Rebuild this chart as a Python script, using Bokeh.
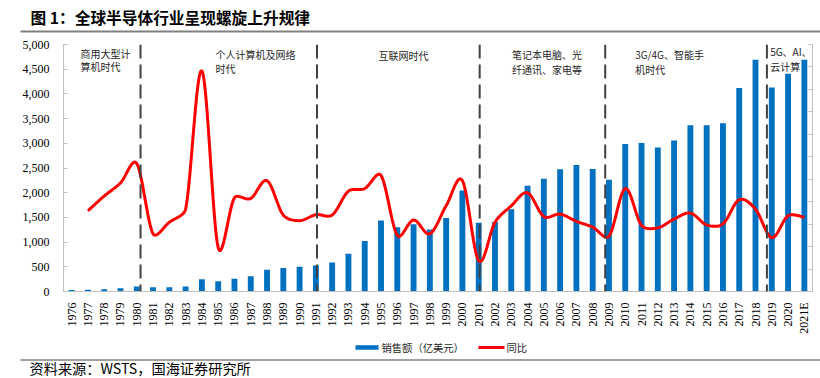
import numpy as np
from bokeh.plotting import figure
from bokeh.layouts import column
from bokeh.models import (FactorRange, Range1d, LinearAxis, SingleIntervalTicker,
                          NumeralTickFormatter, Span, Label, ColumnDataSource,
                          CustomJSTickFormatter)
from bokeh.core.properties import value
from bokeh.embed import file_html
from bokeh.resources import INLINE

# ---------------- data ----------------
years = [str(y) for y in range(1976, 2021)] + ["2021E"]
sales = [30, 35, 45, 65, 100, 88, 88, 100, 250, 210, 260, 310, 440, 478, 500,
         525, 585, 765, 1020, 1435, 1300, 1360, 1255, 1490, 2045, 1390, 1405,
         1665, 2140, 2280, 2475, 2560, 2480, 2260, 2985, 3005, 2915, 3055, 3365,
         3365, 3405, 4120, 4690, 4130, 4410, 4690]
yoy_years = years[1:]
yoy = [11.9, 25.0, 36.7, 54.0, -8.6, 1.7, 13.3, 136.6, -21.0, 23.5, 22.9, 38.7,
       8.0, 3.1, 8.4, 8.1, 29.4, 31.7, 43.4, -10.0, 3.7, -8.6, 16.3, 38.7, -32.7,
       1.7, 16.3, 27.9, 6.7, 8.9, 2.5, -2.7, -10.8, 31.7, -1.2, -3.3, 4.5, 9.8,
       -0.7, 0.2, 21.8, 13.3, -12.1, 7.5, 6.1]

era_lines = [("1980", 0.23), ("1991", 0.07), ("2001", 0.06), ("2009", -0.23), ("2019", -0.30)]
era_texts = [
    ("1977", -0.46, 4820, "商用大型计"), ("1977", -0.46, 4550, "算机时代"),
    ("1985", -0.17, 4800, "个人计算机及网络"), ("1985", -0.17, 4520, "时代"),
    ("1995", -0.16, 4780, "互联网时代"),
    ("2003", 0.04, 4790, "笔记本电脑、光"), ("2003", 0.04, 4500, "纤通讯、家电等"),
    ("2011", -0.39, 4800, "3G/4G、智能手"), ("2011", -0.39, 4500, "机时代"),
    ("2019", -0.10, 4850, "5G、AI、"), ("2019", -0.10, 4560, "云计算"),
]
title_text = "图 1：全球半导体行业呈现螺旋上升规律"
source_text = "资料来源：WSTS，国海证券研究所"
series_names = ["销售额（亿美元）", "同比"]

BLUE = "#0070C0"
RED = "#FF0000"
SERIF = "Liberation Serif"
CJK = "Noto Sans CJK SC"
W = 820
FRAME_W, FRAME_H = 749, 252
YOY_LO, YOY_HI = -60, 160


def smooth(xs, ys, kx, ky, n=16):
    """Smoothed line (Excel style): Catmull-Rom tangents, with each control arm
    capped at a third of its own segment length (in screen space)."""
    P = np.column_stack([np.asarray(xs, float) * kx, np.asarray(ys, float) * ky])
    m = len(P)

    def arm(i, seg_len):
        a = P[i - 1] if i > 0 else P[i]
        c = P[i + 1] if i + 1 < m else P[i]
        v = (c - a) / 6
        L = np.linalg.norm(v)
        cap = seg_len / 3
        return v * (cap / L) if L > cap and L > 0 else v

    out = []
    for i in range(m - 1):
        b, c = P[i], P[i + 1]
        seg = np.linalg.norm(c - b)
        c1 = b + arm(i, seg)
        c2 = c - arm(i + 1, seg)
        t = np.linspace(0, 1, n, endpoint=(i == m - 2))[:, None]
        pts = ((1 - t) ** 3) * b + 3 * ((1 - t) ** 2) * t * c1 + 3 * (1 - t) * t ** 2 * c2 + t ** 3 * c
        out.append(pts)
    out = np.vstack(out)
    return list(out[:, 0] / kx), list(out[:, 1] / ky)


def blank(h):
    f = figure(width=W, height=h, x_range=Range1d(0, W), y_range=Range1d(h, 0),
               output_backend="svg", toolbar_location=None, min_border=0,
               frame_align=False)
    f.axis.visible = False
    f.grid.visible = False
    f.outline_line_color = None
    return f


# ---------------- header ----------------
head = blank(36)
head.text(x=[30], y=[17], text=[title_text], text_font=value(CJK), text_font_size="15.7px",
          text_font_style="bold", text_color="#000000", text_baseline="middle")
head.segment(x0=[20], x1=[W], y0=[31], y1=[31], line_color="#808080", line_width=2)

# ---------------- main chart ----------------
p = figure(width=W, height=300, x_range=FactorRange(*years, range_padding=0, factor_padding=0),
           y_range=Range1d(0, 5000), output_backend="svg", toolbar_location=None,
           min_border_left=63, min_border_right=8, min_border_top=8, min_border_bottom=40,
           frame_align=False)
p.extra_y_ranges = {"yoy": Range1d(YOY_LO, YOY_HI)}
p.outline_line_color = None
p.xgrid.visible = False
p.ygrid.visible = False

src = ColumnDataSource(dict(year=years, sales=sales))
bars = p.vbar(x="year", top="sales", width=0.36, source=src, fill_color=BLUE, line_color=None)

xi = [years.index(y) + 0.5 for y in yoy_years]
sx, sy = smooth(xi, yoy, FRAME_W / len(years), FRAME_H / (YOY_HI - YOY_LO))
line = p.line(sx, sy, y_range_name="yoy", line_color=RED, line_width=3)

for yr, off in era_lines:
    p.add_layout(Span(location=years.index(yr) + 0.5 + off, dimension="height",
                      line_color="#404040", line_width=2, line_dash="14 6"))

for yr, off, yv, txt in era_texts:
    p.add_layout(Label(x=years.index(yr) + 0.5 + off, y=yv, text=txt, text_font=CJK,
                       text_font_size="10px", text_color="#262626", text_baseline="middle",
                       text_align="left"))

yax = p.yaxis[0]
yax.ticker = SingleIntervalTicker(interval=500)
yax.formatter = NumeralTickFormatter(format="0,0")
yax.major_label_text_font = SERIF
yax.major_label_text_font_size = "12px"
yax.major_label_text_color = "#000000"
yax.axis_line_color = "#BFBFBF"
yax.major_tick_line_color = "#BFBFBF"
yax.major_tick_in = 4
yax.major_tick_out = 0
yax.minor_tick_line_color = None
yax.major_label_standoff = 10

xax = p.xaxis[0]
xax.major_label_orientation = np.pi / 2
xax.major_label_text_font = SERIF
xax.major_label_text_font_size = "12px"
xax.major_label_text_color = "#000000"
xax.axis_line_color = "#BFBFBF"
xax.major_tick_line_color = None
xax.major_label_standoff = 5

rax = LinearAxis(y_range_name="yoy", ticker=SingleIntervalTicker(interval=20),
                 formatter=CustomJSTickFormatter(code="return ''"))
rax.axis_line_color = "#BFBFBF"
rax.major_tick_line_color = "#BFBFBF"
rax.major_tick_in = 4
rax.major_tick_out = 0
rax.minor_tick_line_color = None
rax.major_label_standoff = 0
p.add_layout(rax, "right")

# ---------------- footer: legend, rule, source ----------------
foot = blank(42)
foot.rect(x=[366.5], y=[11], width=23, height=4.5, fill_color=BLUE, line_color=None)
foot.text(x=[381], y=[11], text=[series_names[0]], text_font=value(CJK), text_font_size="10.3px",
          text_color="#262626", text_baseline="middle")
foot.segment(x0=[478], x1=[504], y0=[11], y1=[11], line_color=RED, line_width=3)
foot.text(x=[506], y=[11], text=[series_names[1]], text_font=value(CJK), text_font_size="10.3px",
          text_color="#262626", text_baseline="middle")
foot.segment(x0=[20], x1=[W], y0=[23.5], y1=[23.5], line_color="#808080", line_width=1.5)
foot.text(x=[29], y=[31.5], text=[source_text], text_font=value(CJK), text_font_size="14.2px",
          text_color="#000000", text_baseline="middle")

layout = column(head, p, foot, spacing=0)
open("out.html", "w").write(file_html(layout, INLINE))
